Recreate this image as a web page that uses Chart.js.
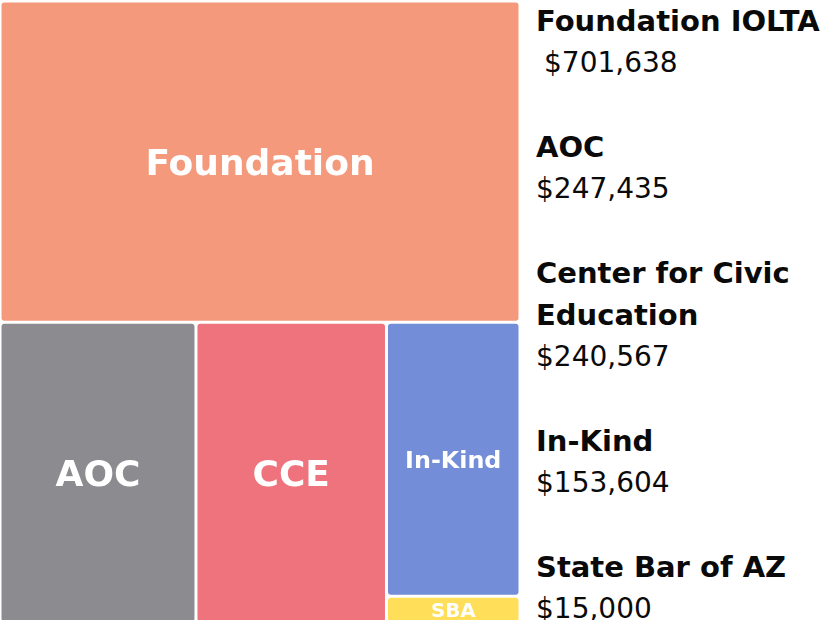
<!DOCTYPE html>
<html>
<head>
<meta charset="utf-8">
<script src="https://cdn.jsdelivr.net/npm/chart.js@4.4.1/dist/chart.umd.min.js"></script>
<style>
  html, body { margin: 0; padding: 0; background: #fff; overflow: hidden; }
  #wrap { position: absolute; left: 0; top: 0; width: 520px; height: 623px; }
  #legend {
    position: absolute; left: 536px; top: 0;
    font-family: "DejaVu Sans", sans-serif; color: #0a0a0a;
    line-height: 42px; white-space: pre;
  }
  #legend .name { font-weight: bold; font-size: 29px; }
  #legend .value { font-size: 28px; }
  #legend .item { margin-bottom: 42px; }
  #legend .item:first-child .value { padding-left: 8px; }
</style>
</head>
<body>
<div id="wrap"><canvas id="tree"></canvas></div>
<div id="legend"></div>
<script>
// ======================= DATA =======================
const cellLabels = ['Foundation', 'AOC', 'CCE', 'In-Kind', 'SBA'];
const sourceNames = ['Foundation IOLTA', 'AOC', 'Center for Civic\nEducation', 'In-Kind', 'State Bar of AZ'];
const amounts = [701638, 247435, 240567, 153604, 15000];

const cellColors = ['#F4997C', '#8B8B90', '#EF737C', '#738DD8', '#FFDE59'];
const fontFamily = '"DejaVu Sans", sans-serif';

// ======================= LAYOUT =======================

function worstRatio(row, side) {
  const s = row.reduce((a, b) => a + b, 0);
  const mx = Math.max(...row);
  const mn = Math.min(...row);
  return Math.max(side * side * mx / (s * s), (s * s) / (side * side * mn));
}

/**
 * Squarified treemap: returns one rect per value, in the units of `rect`
 */
function squarify(values, rect) {
  const total = values.reduce((a, b) => a + b, 0);
  const areas = values.map(v => v / total * rect.w * rect.h);
  const out = [];
  const r = { ...rect };
  let i = 0;
  while (i < areas.length) {
    const side = Math.min(r.w, r.h);
    let row = [areas[i]];
    let j = i + 1;
    while (j < areas.length) {
      const next = row.concat(areas[j]);
      if (worstRatio(next, side) > worstRatio(row, side)) break;
      row = next;
      j++;
    }
    const thick = row.reduce((a, b) => a + b, 0) / side;
    const horizontal = r.w <= r.h;
    let off = 0;
    row.forEach(a => {
      const len = a / thick;
      if (horizontal) out.push({ x: r.x + off, y: r.y, w: len, h: thick });
      else out.push({ x: r.x, y: r.y + off, w: thick, h: len });
      off += len;
    });
    if (horizontal) { r.y += thick; r.h -= thick; }
    else { r.x += thick; r.w -= thick; }
    i = j;
  }
  return out;
}

// ======================= TREEMAP PLUGIN =======================

const treemapPlugin = {
  id: 'treemapCells',
  afterDatasetsDraw(chart) {
    const { ctx, chartArea, scales } = chart;
    const W = chartArea.width;
    const H = chartArea.height;
    const xMax = scales.x.max;
    const yMax = scales.y.max;
    const cells = squarify(amounts, { x: 0, y: 0, w: W, h: H });
    const gap = 1.5;

    ctx.save();
    cells.forEach((c, i) => {
      const x0 = scales.x.getPixelForValue(c.x / W * xMax);
      const x1 = scales.x.getPixelForValue((c.x + c.w) / W * xMax);
      const y0 = scales.y.getPixelForValue(c.y / H * yMax);
      const y1 = scales.y.getPixelForValue((c.y + c.h) / H * yMax);
      const w = x1 - x0;
      const h = y1 - y0;

      ctx.fillStyle = cellColors[i];
      ctx.beginPath();
      ctx.roundRect(x0 + gap, y0 + gap, w - gap * 2, h - gap * 2, 3);
      ctx.fill();

      // label size fits the cell
      const label = cellLabels[i];
      ctx.font = 'bold 100px ' + fontFamily;
      const em = ctx.measureText(label).width / 100;
      const size = Math.min(36, 0.72 * w / em, 0.74 * h);
      ctx.font = 'bold ' + size.toFixed(1) + 'px ' + fontFamily;
      const cap = ctx.measureText('H').actualBoundingBoxAscent;
      ctx.fillStyle = '#ffffff';
      ctx.textAlign = 'center';
      ctx.textBaseline = 'alphabetic';
      ctx.fillText(label, x0 + w / 2, y0 + h / 2 + cap / 2);
    });
    ctx.restore();
  }
};

new Chart(document.getElementById('tree'), {
  type: 'scatter',
  data: {
    datasets: [{ label: 'Funding', data: [] }]
  },
  options: {
    responsive: true,
    maintainAspectRatio: false,
    animation: false,
    layout: { padding: { top: 1, left: 0, right: 0, bottom: 0 } },
    plugins: {
      legend: { display: false },
      tooltip: { enabled: false }
    },
    scales: {
      x: { type: 'linear', min: 0, max: 100, display: false },
      y: { type: 'linear', min: 0, max: 100, reverse: true, display: false }
    }
  },
  plugins: [treemapPlugin]
});

// ======================= LEGEND =======================

const legend = document.getElementById('legend');
sourceNames.forEach((name, i) => {
  const item = document.createElement('div');
  item.className = 'item';
  const n = document.createElement('div');
  n.className = 'name';
  n.textContent = name;
  const v = document.createElement('div');
  v.className = 'value';
  v.textContent = '$' + amounts[i].toLocaleString('en-US');
  item.appendChild(n);
  item.appendChild(v);
  legend.appendChild(item);
});
</script>
</body>
</html>
